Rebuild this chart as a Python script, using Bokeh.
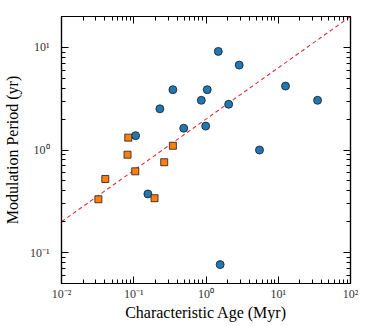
from bokeh.plotting import figure
from bokeh.models import LogAxis, FixedTicker, Range1d
from bokeh.embed import file_html
from bokeh.resources import INLINE

# Data
blue_age = [0.106, 0.23, 0.348, 0.492, 0.861, 1.04, 1.48, 2.88, 2.06, 0.99, 12.6, 35.0, 5.5, 1.57, 0.157]
blue_period = [1.38, 2.52, 3.87, 1.63, 3.05, 3.87, 9.14, 6.72, 2.79, 1.71, 4.2, 3.05, 1.0, 0.0764, 0.373]
orange_age = [0.084, 0.082, 0.348, 0.264, 0.105, 0.0404, 0.0324, 0.194]
orange_period = [1.32, 0.90, 1.10, 0.76, 0.62, 0.522, 0.331, 0.339]
fit_age = [0.01, 100.0]
fit_period = [0.2, 20.0]

x_ticks = [0.01, 0.1, 1, 10, 100]
x_tick_labels = ["10\u207b\u00b2", "10\u207b\u00b9", "10\u2070", "10\u00b9", "10\u00b2"]
y_ticks = [0.1, 1, 10]
y_tick_labels = ["10\u207b\u00b9", "10\u2070", "10\u00b9"]

x_minor = [m * d for d in [0.01, 0.1, 1, 10] for m in range(2, 10)]
y_minor = [m * d for d in [0.01, 0.1, 1, 10] for m in range(2, 10) if 0.05 <= m * d <= 20]

SERIF = "Liberation Serif"

p = figure(width=358, height=323, x_axis_type="log", y_axis_type="log",
           x_range=Range1d(0.01, 100), y_range=Range1d(0.05, 20),
           output_backend="svg", toolbar_location=None,
           min_border_left=60, min_border_right=8, min_border_top=16, min_border_bottom=37)
p.grid.visible = False
p.outline_line_color = "black"
p.outline_line_width = 1.2
p.background_fill_color = "white"
p.border_fill_color = "white"


def style(ax, ticker, labels=None):
    ax.ticker = ticker
    ax.major_tick_in = 7
    ax.major_tick_out = 0
    ax.minor_tick_in = 4
    ax.minor_tick_out = 0
    ax.axis_line_color = "black"
    ax.axis_line_width = 1.2
    ax.major_tick_line_color = "black"
    ax.minor_tick_line_color = "black"
    ax.major_tick_line_width = 1
    ax.minor_tick_line_width = 1
    if labels is not None:
        ax.major_label_overrides = {t: l for t, l in zip(ticker.ticks, labels)}
        ax.major_label_text_font = SERIF
        ax.major_label_text_font_size = "12px"
        ax.major_label_text_color = "#333333"
        ax.major_label_standoff = 3
        ax.axis_label_text_font = SERIF
        ax.axis_label_text_font_size = "16px"
        ax.axis_label_text_font_style = "normal"
        ax.axis_label_text_color = "black"
        ax.axis_label_standoff = 0
    else:
        ax.major_label_text_font_size = "0px"
        ax.major_label_standoff = 0
        ax.major_label_overrides = {t: "" for t in ticker.ticks}


style(p.xaxis[0], FixedTicker(ticks=x_ticks, minor_ticks=x_minor), x_tick_labels)
style(p.yaxis[0], FixedTicker(ticks=y_ticks, minor_ticks=y_minor), y_tick_labels)
p.xaxis[0].axis_label = "Characteristic Age (Myr)"
p.yaxis[0].axis_label = "Modulation Period (yr)"
p.yaxis[0].major_label_orientation = "horizontal"
p.yaxis[0].major_label_standoff = 12
p.yaxis[0].axis_label_standoff = 6

top = LogAxis()
style(top, FixedTicker(ticks=x_ticks, minor_ticks=x_minor))
right = LogAxis()
style(right, FixedTicker(ticks=y_ticks, minor_ticks=y_minor))
p.add_layout(top, "above")
p.add_layout(right, "right")

p.line(fit_age, fit_period, line_color="#e0303a", line_dash="4 3", line_width=1.1)
p.scatter(blue_age, blue_period, marker="circle", size=8, fill_color="#1f77b4",
          line_color="#1a1a1a", line_width=0.8)
p.scatter(orange_age, orange_period, marker="square", size=7, fill_color="#ff7f0e",
          line_color="#1a1a1a", line_width=0.8)

open("out.html", "w").write(file_html(p, INLINE))
